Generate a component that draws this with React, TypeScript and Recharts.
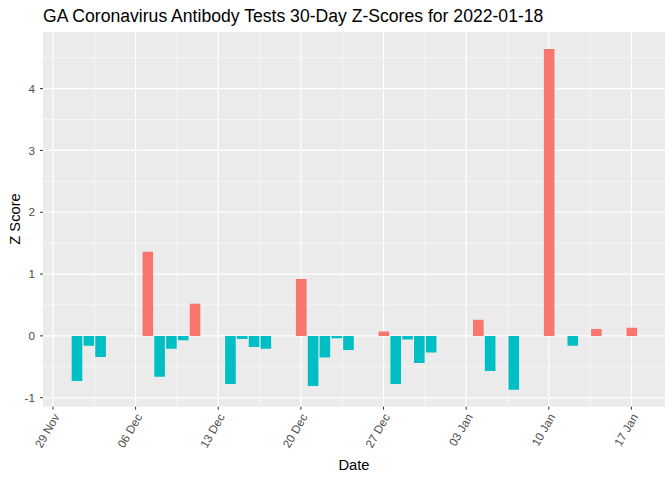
import { BarChart, Bar, XAxis, YAxis, CartesianGrid, Cell } from 'recharts';

const dates = [
  '2021-12-01', '2021-12-02', '2021-12-03',
  '2021-12-07', '2021-12-08', '2021-12-09', '2021-12-10', '2021-12-11',
  '2021-12-14', '2021-12-15', '2021-12-16', '2021-12-17',
  '2021-12-20', '2021-12-21', '2021-12-22', '2021-12-23', '2021-12-24',
  '2021-12-27', '2021-12-28', '2021-12-29', '2021-12-30', '2021-12-31',
  '2022-01-04', '2022-01-05', '2022-01-07',
  '2022-01-10', '2022-01-12', '2022-01-14', '2022-01-17',
];

const zScores = [
  -0.73, -0.16, -0.34,
  1.36, -0.66, -0.21, -0.07, 0.52,
  -0.78, -0.05, -0.18, -0.21,
  0.92, -0.81, -0.35, -0.04, -0.23,
  0.07, -0.78, -0.06, -0.44, -0.27,
  0.26, -0.57, -0.87,
  4.64, -0.16, 0.11, 0.13,
];

const tickDates = [
  '2021-11-29', '2021-12-06', '2021-12-13', '2021-12-20',
  '2021-12-27', '2022-01-03', '2022-01-10', '2022-01-17',
];
const tickLabels = ['29 Nov', '06 Dec', '13 Dec', '20 Dec', '27 Dec', '03 Jan', '10 Jan', '17 Jan'];

const yTicks = [-1, 0, 1, 2, 3, 4];

const ORIGIN = Date.parse('2021-11-29T00:00:00Z');
const dayOf = (s: string) => (Date.parse(s + 'T00:00:00Z') - ORIGIN) / 86400000;

const data = dates.map((d, i) => ({ day: dayOf(d), z: zScores[i] }));
const tickDays = tickDates.map(dayOf);
const minorX = tickDays.slice(0, -1).map((d) => d + 3.5);
const minorY = [-0.5, 0.5, 1.5, 2.5, 3.5, 4.5];

const POS = '#F8766D';
const NEG = '#00BFC4';
const FONT = '"Liberation Sans", Arial, sans-serif';

function XTick({ x, y, payload }: any) {
  const i = tickDays.indexOf(payload.value);
  const tx = x + 7;
  const ty = y + 5;
  return (
    <text
      x={tx}
      y={ty}
      textAnchor="end"
      transform={`rotate(-60 ${tx} ${ty})`}
      fill="#4D4D4D"
      fontSize={11.7}
      fontFamily={FONT}
    >
      {i >= 0 ? tickLabels[i] : ''}
    </text>
  );
}

export default function App() {
  return (
    <div style={{ position: 'absolute', left: 0, top: 0, width: 672, height: 480, background: '#fff', fontFamily: FONT }}>
      <BarChart
        width={672}
        height={480}
        data={data}
        margin={{ top: 32, right: 7, left: 0, bottom: 0 }}
      >
        <CartesianGrid
          fill="#EBEBEB"
          stroke="#FFFFFF"
          strokeWidth={0.6}
          horizontalValues={minorY}
          verticalValues={minorX}
        />
        <CartesianGrid
          stroke="#FFFFFF"
          strokeWidth={1.2}
          horizontalValues={yTicks}
          verticalValues={tickDays}
        />
        <XAxis
          dataKey="day"
          type="number"
          domain={[-0.845, 51.845]}
          ticks={tickDays}
          allowDataOverflow
          height={73.3}
          axisLine={false}
          tickLine={{ stroke: '#333333' }}
          tickSize={3}
          tickMargin={2}
          tick={<XTick />}
          interval={0}
        />
        <YAxis
          type="number"
          domain={[-1.1455, 4.9155]}
          ticks={yTicks}
          allowDataOverflow
          width={43}
          axisLine={false}
          tickLine={{ stroke: '#333333' }}
          tickSize={3}
          tickMargin={5}
          tick={{ fill: '#4D4D4D', fontSize: 11.7, fontFamily: FONT }}
          interval={0}
        />
        <Bar dataKey="z" barSize={10.6} isAnimationActive={false}>
          {data.map((entry, index) => (
            <Cell key={`cell-${index}`} fill={entry.z > 0 ? POS : NEG} />
          ))}
        </Bar>
      </BarChart>
      <div style={{ position: 'absolute', left: 43, top: 6, fontSize: 17.6, color: '#000', whiteSpace: 'nowrap' }}>
        GA Coronavirus Antibody Tests 30-Day Z-Scores for 2022-01-18
      </div>
      <div
        style={{
          position: 'absolute',
          left: 354,
          top: 465,
          transform: 'translate(-50%, -50%)',
          fontSize: 14.7,
          color: '#000',
          whiteSpace: 'nowrap',
        }}
      >
        Date
      </div>
      <div
        style={{
          position: 'absolute',
          left: 15,
          top: 219,
          transform: 'translate(-50%, -50%) rotate(-90deg)',
          fontSize: 14.7,
          color: '#000',
          whiteSpace: 'nowrap',
        }}
      >
        Z Score
      </div>
    </div>
  );
}
